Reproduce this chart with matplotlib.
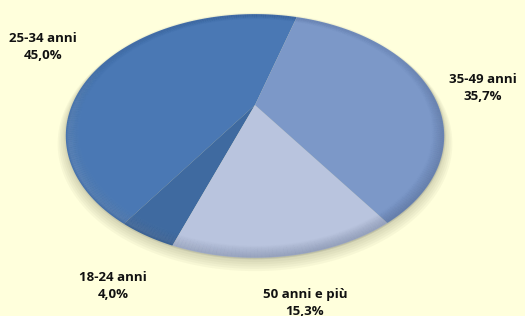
import numpy as np
import matplotlib.pyplot as plt
from matplotlib.collections import LineCollection

# data
labels = ["25-34 anni", "18-24 anni", "50 anni e più", "35-49 anni"]
shares = [45.0, 4.0, 15.3, 35.7]
pct_labels = ["45,0%", "4,0%", "15,3%", "35,7%"]
colors = ["#4a78b4", "#3f6aa0", "#b9c4de", "#7c98c8"]

# layout (pixel coordinates of the 525x316 canvas)
W, H = 525, 316
cx, cy = 255, 105          # vertex of the tilted pie
a, b, k = 183, 114, 0.254  # half width, half depth, perspective factor
start_angle = 73.5
label_xy = [(43, 47), (113, 286), (305, 303), (483, 88)]
bg = "#ffffdc"


def project(u, v):
    d = 1 + k * v
    return cx + a * u / d, cy - b * v / d


fig = plt.figure(figsize=(W / 100, H / 100), dpi=100, facecolor=bg)
ax = fig.add_axes([0, 0, 1, 1])
ax.set_xlim(0, W)
ax.set_ylim(H, 0)
ax.axis("off")

t = np.linspace(0, 2 * np.pi, 400)

# soft shadow under the disc
for i in range(6):
    s = 1.0 + i * 0.008
    sx, sy = project(s * np.cos(t), s * np.sin(t))
    ax.fill(sx, sy + 2 + i * 0.6, color="#6b6b50", alpha=0.05, lw=0)

bounds = start_angle + np.concatenate([[0], np.cumsum(shares)]) * 3.6
for i, col in enumerate(colors):
    th = np.radians(np.linspace(bounds[i], bounds[i + 1], 120))
    u = np.concatenate([[0], np.cos(th)])
    v = np.concatenate([[0], np.sin(th)])
    px, py = project(u, v)
    ax.fill(px, py, color=col, lw=0)


def rim(scale, rgb, weight_fn, lw):
    xs, ys = project(scale * np.cos(t), scale * np.sin(t))
    pts = np.column_stack([xs, ys])
    segs = np.stack([pts[:-1], pts[1:]], axis=1)
    mid = (t[:-1] + t[1:]) / 2
    w = np.clip(weight_fn(mid), 0, 1)
    cols = np.zeros((len(mid), 4))
    cols[:, :3] = rgb
    cols[:, 3] = w
    ax.add_collection(LineCollection(segs, colors=cols, linewidths=lw,
                                     capstyle="butt"))


# bevel: darker towards bottom-right, light glint at lower-left
for i in range(12):
    s = 1 - i * 0.005
    fade = 1 - i / 12
    rim(s, (0.12, 0.18, 0.30),
        lambda m: 0.10 * fade * (0.25 + 0.75 * np.clip(np.cos(m - np.radians(300)), 0, 1)),
        2.0)
    rim(s - 0.01, (1.0, 1.0, 1.0),
        lambda m: 0.05 * fade * np.clip(np.cos(m - np.radians(215)) * 2 - 1, 0, 1),
        2.0)

for lab, pct, (x, y) in zip(labels, pct_labels, label_xy):
    ax.text(x, y, f"{lab}\n{pct}", ha="center", va="center", fontsize=9.5,
            fontweight="bold", family="Open Sans", color="#111111",
            linespacing=1.45)

fig.savefig("out.png", dpi=100, facecolor=bg)
